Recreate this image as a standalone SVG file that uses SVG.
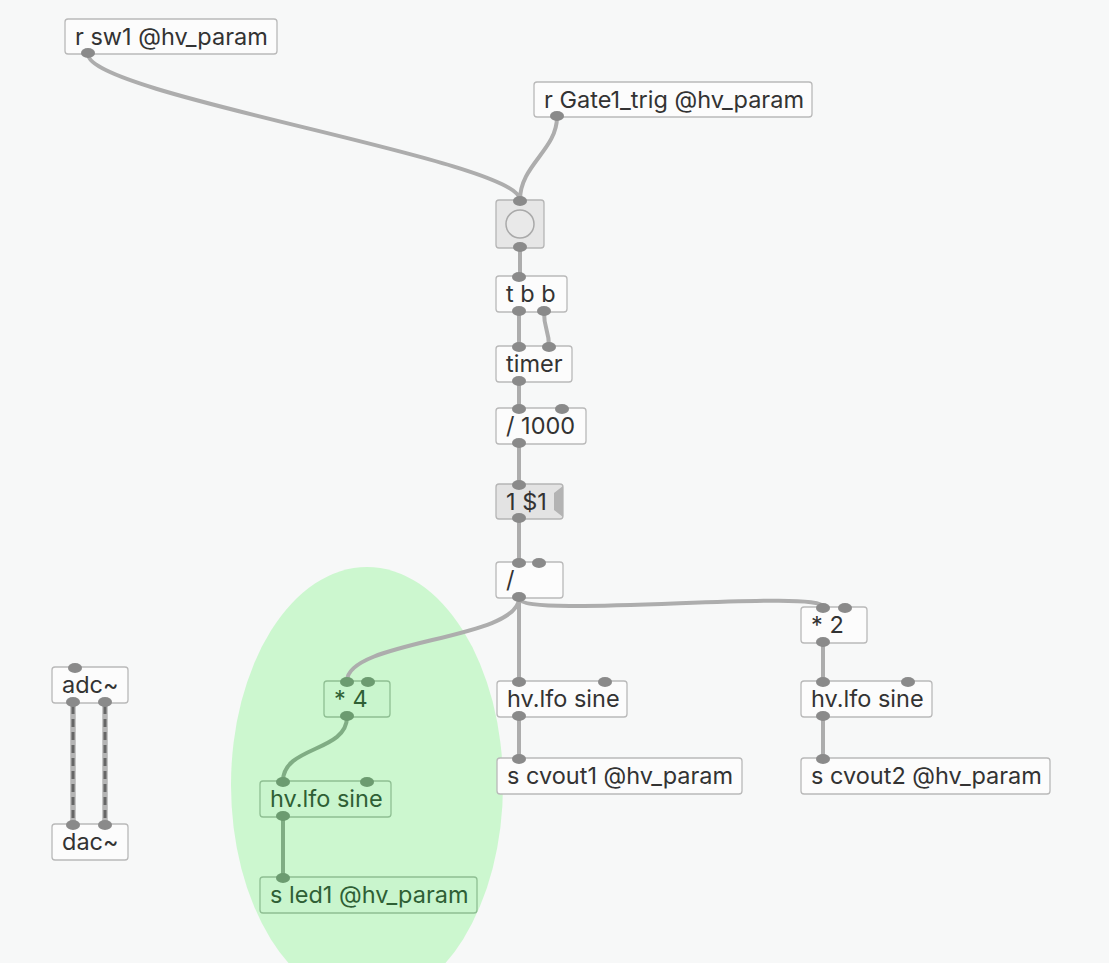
<svg xmlns="http://www.w3.org/2000/svg" width="1109" height="963" viewBox="0 0 1109 963">
<style>
.box{fill:#fcfcfc;stroke:#b9b9b9;stroke-width:1.3}
.gbox{fill:#c9f5cd;stroke:#8fbf93;stroke-width:1.3}
.t{font-family:Inter,"Noto Sans",sans-serif;font-size:23.5px;fill:#333333}
.gt{font-family:Inter,"Noto Sans",sans-serif;font-size:23.5px;fill:#2f5f35}
.io{fill:#8a8a8a}
.gio{fill:#6c9b70}
.c{fill:none;stroke:#adadad;stroke-width:4;stroke-linecap:round}
.gc{fill:none;stroke:#80ad84;stroke-width:4;stroke-linecap:round}
.sig{fill:none;stroke:#b4b4b4;stroke-width:5.5}
.sigd{fill:none;stroke:#666;stroke-width:3;stroke-dasharray:8 5}
</style>
<rect x="0" y="0" width="1109" height="963" fill="#f7f8f8"/>
<ellipse id="highlight" cx="367" cy="785" rx="136" ry="218" fill="#ccf7cf"/>
<g id="connectors">
<path class="c" d="M88,54 C88,95 520,160 520,200"/>
<path class="c" d="M557,117 C557,150 520,165 520,200"/>
<path class="c" d="M520,248 L520,276"/>
<path class="c" d="M519,312 L519,346"/>
<path class="c" d="M544,312 C544,330 549,330 549,346"/>
<path class="c" d="M519,382 L519,408"/>
<path class="c" d="M519,444 L519,484"/>
<path class="c" d="M519,519 L519,562"/>
<path class="c" d="M519,598 L519,681"/>
<path class="c" d="M519,598 C519,620 823,588 823,607"/>
<path class="c" d="M519,598 C519,640 347,640 347,681"/>
<path class="c" d="M519,717 L519,758"/>
<path class="c" d="M823,643 L823,681"/>
<path class="c" d="M823,717 L823,758"/>
<path class="gc" d="M347,717 C347,752 283,746 283,781"/>
<path class="gc" d="M283,817 L283,877"/>
<path class="sig" d="M73,703 L73,824"/>
<path class="sigd" d="M73,706 L73,822"/>
<path class="sig" d="M105,703 L105,824"/>
<path class="sigd" d="M105,706 L105,822"/>
</g>
<g id="r_sw1">
<rect class="box" x="65" y="19" width="212" height="35" rx="3"/>
<text class="t" x="75" y="45">r sw1 @hv_param</text>
<ellipse class="io" cx="88" cy="53" rx="7" ry="5"/>
</g>
<g id="r_gate1">
<rect class="box" x="534" y="82" width="278" height="35" rx="3"/>
<text class="t" x="544" y="108">r Gate1_trig @hv_param</text>
<ellipse class="io" cx="557" cy="116" rx="7" ry="5"/>
</g>
<g id="bang">
<rect x="496" y="200" width="48" height="48" rx="3" fill="#e6e6e6" stroke="#b5b5b5" stroke-width="1.3"/>
<circle cx="520" cy="224" r="14" fill="#e9e9e9" stroke="#a9a9a9" stroke-width="1.5"/>
<ellipse class="io" cx="520" cy="201" rx="7" ry="5"/>
<ellipse class="io" cx="520" cy="247" rx="7" ry="5"/>
</g>
<g id="tbb">
<rect class="box" x="496" y="276" width="71" height="36" rx="3"/>
<text class="t" x="506" y="302">t b b</text>
<ellipse class="io" cx="519" cy="277" rx="7" ry="5"/>
<ellipse class="io" cx="519" cy="311" rx="7" ry="5"/>
<ellipse class="io" cx="544" cy="311" rx="7" ry="5"/>
</g>
<g id="timer">
<rect class="box" x="496" y="346" width="76" height="36" rx="3"/>
<text class="t" x="506" y="372">timer</text>
<ellipse class="io" cx="519" cy="347" rx="7" ry="5"/>
<ellipse class="io" cx="549" cy="347" rx="7" ry="5"/>
<ellipse class="io" cx="519" cy="381" rx="7" ry="5"/>
</g>
<g id="div1000">
<rect class="box" x="496" y="408" width="90" height="36" rx="3"/>
<text class="t" x="506" y="434">/ 1000</text>
<ellipse class="io" cx="519" cy="409" rx="7" ry="5"/>
<ellipse class="io" cx="562" cy="409" rx="7" ry="5"/>
<ellipse class="io" cx="519" cy="443" rx="7" ry="5"/>
</g>
<g id="msg">
<rect x="496" y="484" width="67" height="35" rx="3" fill="#e3e3e3" stroke="#b5b5b5" stroke-width="1.3"/>
<polygon points="563,486 554,493 554,510 563,517" fill="#b3b3b3"/>
<text class="t" x="506" y="510">1 $1</text>
<ellipse class="io" cx="519" cy="485" rx="7" ry="5"/>
<ellipse class="io" cx="519" cy="518" rx="7" ry="5"/>
</g>
<g id="div">
<rect class="box" x="496" y="562" width="67" height="36" rx="3"/>
<text class="t" x="506" y="588">/</text>
<ellipse class="io" cx="519" cy="563" rx="7" ry="5"/>
<ellipse class="io" cx="539" cy="563" rx="7" ry="5"/>
<ellipse class="io" cx="519" cy="597" rx="7" ry="5"/>
</g>
<g id="mul2">
<rect class="box" x="801" y="607" width="66" height="36" rx="3"/>
<text class="t" x="811" y="633">* 2</text>
<ellipse class="io" cx="823" cy="608" rx="7" ry="5"/>
<ellipse class="io" cx="845" cy="608" rx="7" ry="5"/>
<ellipse class="io" cx="823" cy="642" rx="7" ry="5"/>
</g>
<g id="lfo_right">
<rect class="box" x="801" y="681" width="131" height="36" rx="3"/>
<text class="t" x="811" y="707">hv.lfo sine</text>
<ellipse class="io" cx="823" cy="682" rx="7" ry="5"/>
<ellipse class="io" cx="908" cy="682" rx="7" ry="5"/>
<ellipse class="io" cx="823" cy="716" rx="7" ry="5"/>
</g>
<g id="s_cvout2">
<rect class="box" x="801" y="758" width="249" height="36" rx="3"/>
<text class="t" x="811" y="784">s cvout2 @hv_param</text>
<ellipse class="io" cx="823" cy="759" rx="7" ry="5"/>
</g>
<g id="lfo_mid">
<rect class="box" x="497" y="681" width="130" height="36" rx="3"/>
<text class="t" x="507" y="707">hv.lfo sine</text>
<ellipse class="io" cx="519" cy="682" rx="7" ry="5"/>
<ellipse class="io" cx="605" cy="682" rx="7" ry="5"/>
<ellipse class="io" cx="519" cy="716" rx="7" ry="5"/>
</g>
<g id="s_cvout1">
<rect class="box" x="497" y="758" width="245" height="36" rx="3"/>
<text class="t" x="507" y="784">s cvout1 @hv_param</text>
<ellipse class="io" cx="519" cy="759" rx="7" ry="5"/>
</g>
<g id="mul4">
<rect class="gbox" x="324" y="681" width="66" height="36" rx="3"/>
<text class="gt" x="334" y="707">* 4</text>
<ellipse class="gio" cx="347" cy="682" rx="7" ry="5"/>
<ellipse class="gio" cx="368" cy="682" rx="7" ry="5"/>
<ellipse class="gio" cx="347" cy="716" rx="7" ry="5"/>
</g>
<g id="lfo_green">
<rect class="gbox" x="260" y="781" width="131" height="36" rx="3"/>
<text class="gt" x="270" y="807">hv.lfo sine</text>
<ellipse class="gio" cx="283" cy="782" rx="7" ry="5"/>
<ellipse class="gio" cx="367" cy="782" rx="7" ry="5"/>
<ellipse class="gio" cx="283" cy="816" rx="7" ry="5"/>
</g>
<g id="s_led1">
<rect class="gbox" x="260" y="877" width="217" height="36" rx="3"/>
<text class="gt" x="270" y="903">s led1 @hv_param</text>
<ellipse class="gio" cx="283" cy="878" rx="7" ry="5"/>
</g>
<g id="adc">
<rect class="box" x="52" y="667" width="76" height="36" rx="3"/>
<text class="t" x="62" y="693">adc~</text>
<ellipse class="io" cx="75" cy="668" rx="7" ry="5"/>
<ellipse class="io" cx="73" cy="702" rx="7" ry="5"/>
<ellipse class="io" cx="105" cy="702" rx="7" ry="5"/>
</g>
<g id="dac">
<rect class="box" x="52" y="824" width="76" height="36" rx="3"/>
<text class="t" x="62" y="850">dac~</text>
<ellipse class="io" cx="73" cy="825" rx="7" ry="5"/>
<ellipse class="io" cx="105" cy="825" rx="7" ry="5"/>
</g>
</svg>
